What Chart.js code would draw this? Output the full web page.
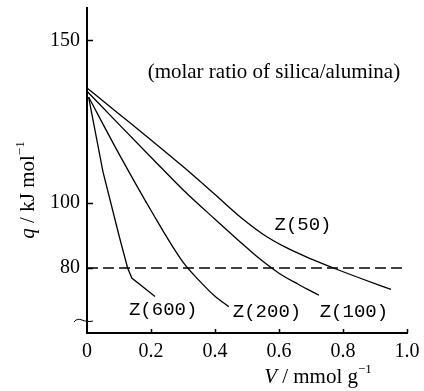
<!DOCTYPE html>
<html>
<head>
<meta charset="utf-8">
<script src="https://cdn.jsdelivr.net/npm/chart.js@4/dist/chart.umd.min.js"></script>
<style>
  html, body { margin: 0; padding: 0; background: #fff; }
  canvas { display: block; }
</style>
</head>
<body>
<canvas id="heatChart" width="424" height="391"></canvas>
<script>
// Heat of adsorption q vs adsorbed amount V, one curve per silica/alumina ratio

const z50V = [0, 0.1, 0.2, 0.3, 0.4, 0.48, 0.55, 0.62, 0.7, 0.77, 0.85, 0.95];
const z50Q = [135.4, 127.4, 119.4, 111.2, 102.6, 95.6, 90.4, 86.4, 82.8, 80.0, 77.0, 73.4];

const z100V = [0, 0.1, 0.2, 0.3, 0.4, 0.47, 0.53, 0.6, 0.66, 0.725];
const z100Q = [134.4, 124.2, 114.1, 104.1, 95.0, 88.8, 83.6, 78.4, 75.0, 71.6];

const z200V = [0.005, 0.1, 0.2, 0.3, 0.35, 0.4, 0.443];
const z200Q = [132.6, 115.1, 97.7, 81.8, 76.2, 71.3, 68.1];

const z600V = [0.005, 0.05, 0.1, 0.127, 0.14, 0.2125];
const z600Q = [132.6, 109.6, 90.0, 80.0, 76.9, 71.2];

const refLevel = 80;          // dashed line
const xTickValues = [0, 0.2, 0.4, 0.6, 0.8, 1.0];
const xTickLabels = ['0', '0.2', '0.4', '0.6', '0.8', '1.0'];
const yTickValues = [80, 100, 150];

const curveNames = ['Z(50)', 'Z(600)', 'Z(200)', 'Z(100)'];
const noteText = '(molar ratio of silica/alumina)';

// label anchors (data units)
const nameAnchors = [[0.675, 93.3], [0.238, 67.0], [0.5625, 66.4], [0.834, 66.4]];
const noteAnchor = [0.584, 140.1];

const toPts = (xs, ys) => xs.map((v, i) => ({ x: v, y: ys[i] }));

const serif = '"Liberation Serif", "DejaVu Serif", serif';
const mono = '"Liberation Mono", "DejaVu Sans Mono", monospace';

function drawRich(ctx, parts, cx, cy) {
    let total = 0;
    parts.forEach(p => { ctx.font = p.font; p.w = ctx.measureText(p.t).width; total += p.w; });
    let xpos = cx - total / 2;
    ctx.textAlign = 'left';
    ctx.textBaseline = 'middle';
    parts.forEach(p => {
        ctx.font = p.font;
        ctx.fillText(p.t, xpos, cy + (p.dy || 0));
        xpos += p.w;
    });
}

const overlay = {
    id: 'overlay',
    afterDraw(chart) {
        const { ctx, chartArea: area, scales: { x, y } } = chart;
        ctx.save();
        ctx.strokeStyle = '#000';
        ctx.fillStyle = '#000';
        ctx.lineWidth = 1.5;

        // inward tick marks
        ctx.beginPath();
        yTickValues.forEach(v => {
            const py = Math.round(y.getPixelForValue(v)) + 0.5;
            ctx.moveTo(area.left, py);
            ctx.lineTo(area.left + 6, py);
        });
        xTickValues.slice(1).forEach(v => {
            const px = Math.round(x.getPixelForValue(v)) + 0.5;
            ctx.moveTo(px, area.bottom);
            ctx.lineTo(px, area.bottom - 4);
        });
        ctx.stroke();

        // axis break mark
        const by = y.getPixelForValue(64);
        ctx.lineWidth = 1;
        ctx.beginPath();
        ctx.moveTo(area.left - 13, by + 2);
        ctx.bezierCurveTo(area.left - 8, by - 5, area.left - 3, by + 4, area.left + 6, by + 1);
        ctx.stroke();

        // curve names
        ctx.font = '19px ' + mono;
        ctx.textAlign = 'center';
        ctx.textBaseline = 'middle';
        curveNames.forEach((name, i) => {
            ctx.fillText(name, x.getPixelForValue(nameAnchors[i][0]), y.getPixelForValue(nameAnchors[i][1]));
        });

        // note
        ctx.font = '21px ' + serif;
        ctx.fillText(noteText, x.getPixelForValue(noteAnchor[0]), y.getPixelForValue(noteAnchor[1]));

        // x axis title
        drawRich(ctx, [
            { t: 'V', font: 'italic 21px ' + serif },
            { t: ' / mmol g', font: '21px ' + serif },
            { t: '\u22121', font: '13px ' + serif, dy: -7 }
        ], 318, 377);

        // y axis title
        ctx.translate(28, 190);
        ctx.rotate(-Math.PI / 2);
        drawRich(ctx, [
            { t: 'q', font: 'italic 21px ' + serif },
            { t: ' / kJ mol', font: '21px ' + serif },
            { t: '\u22121', font: '13px ' + serif, dy: -7 }
        ], 0, 0);

        ctx.restore();
    }
};

const curveStyle = {
    borderColor: '#000',
    borderWidth: 1.3,
    pointRadius: 0,
    fill: false,
    showLine: true
};

new Chart(document.getElementById('heatChart'), {
    type: 'scatter',
    data: {
        datasets: [
            { ...curveStyle, label: 'Z(50)', data: toPts(z50V, z50Q), cubicInterpolationMode: 'monotone' },
            { ...curveStyle, label: 'Z(100)', data: toPts(z100V, z100Q), cubicInterpolationMode: 'monotone' },
            { ...curveStyle, label: 'Z(200)', data: toPts(z200V, z200Q), cubicInterpolationMode: 'monotone' },
            { ...curveStyle, label: 'Z(600)', data: toPts(z600V, z600Q), tension: 0 },
            {
                ...curveStyle, label: 'ref', borderWidth: 1.5, borderDash: [11, 5],
                data: [{ x: 0, y: refLevel }, { x: 1, y: refLevel }]
            }
        ]
    },
    options: {
        responsive: false,
        animation: false,
        layout: { padding: { top: 8, right: 17, left: 0, bottom: 0 } },
        plugins: {
            legend: { display: false },
            tooltip: { enabled: false }
        },
        scales: {
            x: {
                type: 'linear',
                min: 0,
                max: 1.0,
                afterFit: s => { s.height = 58; s.paddingLeft = 0; s.paddingRight = 0; },
                afterBuildTicks: axis => { axis.ticks = xTickValues.map(v => ({ value: v })); },
                grid: { display: false, drawTicks: false },
                border: { display: true, color: '#000', width: 2 },
                ticks: {
                    padding: 7,
                    color: '#000',
                    font: { family: serif, size: 20 },
                    maxRotation: 0,
                    callback: function (value) {
                        const i = xTickValues.findIndex(v => Math.abs(v - value) < 1e-6);
                        return i >= 0 ? xTickLabels[i] : '';
                    }
                }
            },
            y: {
                type: 'linear',
                min: 60,
                max: 160,
                afterFit: s => { s.width = 87; s.paddingTop = 0; s.paddingBottom = 0; },
                afterBuildTicks: axis => { axis.ticks = yTickValues.map(v => ({ value: v })); },
                grid: { display: false, drawTicks: false },
                border: { display: true, color: '#000', width: 2 },
                ticks: {
                    padding: 7,
                    color: '#000',
                    font: { family: serif, size: 20 },
                    callback: function (value) { return String(value); }
                }
            }
        }
    },
    plugins: [overlay]
});
</script>
</body>
</html>
